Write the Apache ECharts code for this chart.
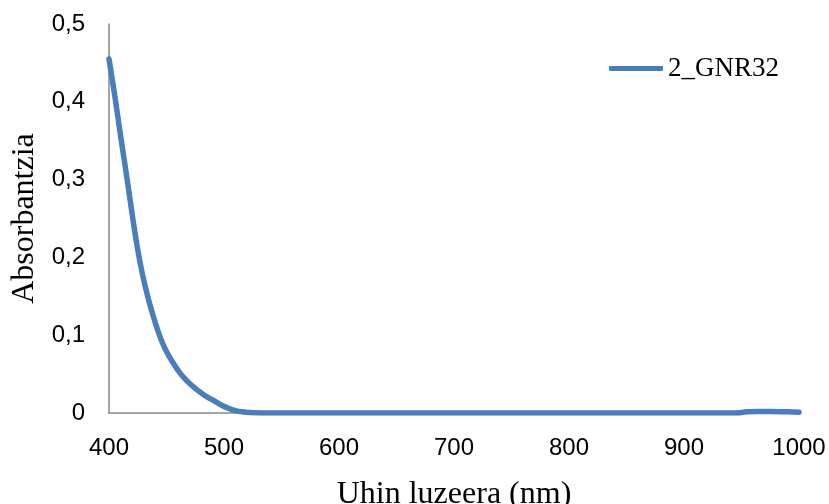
<!DOCTYPE html>
<html>
<head>
<meta charset="utf-8">
<script src="https://cdn.jsdelivr.net/npm/echarts@6/dist/echarts.min.js"></script>
<style>html,body{margin:0;padding:0;background:#fff}#c{width:829px;height:504px}</style>
</head>
<body>
<div id="c"></div>
<script>
const seriesName = '2_GNR32';
const wavelength = [400, 405, 410, 416, 421, 425, 429, 434, 438, 442, 446, 450, 456, 462, 468, 474, 480, 486, 490, 498, 504, 510, 518, 526, 540, 945, 955, 965, 975, 990, 1000];
const absorbance = [0.455, 0.408, 0.357, 0.298, 0.247, 0.21, 0.179, 0.148, 0.127, 0.108, 0.092, 0.079, 0.064, 0.051, 0.041, 0.033, 0.026, 0.020, 0.017, 0.010, 0.006, 0.003, 0.0012, 0.0003, 0, 0, 0.0015, 0.002, 0.002, 0.0015, 0.001];
const xTicks = [400, 500, 600, 700, 800, 900, 1000];
const yTicks = [0, 0.1, 0.2, 0.3, 0.4, 0.5];

const data = wavelength.map((x, i) => [x, absorbance[i]]);
const chart = echarts.init(document.getElementById('c'), null, {renderer: 'canvas'});
chart.setOption({
  animation: false,
  grid: {left: 109, right: 30, top: 24, bottom: 91, outerBoundsMode: 'none', containLabel: false},
  legend: {
    show: true,
    left: 604, top: 50,
    itemWidth: 54, itemHeight: 5, itemGap: 10,
    textStyle: {fontFamily: 'Liberation Serif', fontSize: 27, color: '#000'},
    data: [{name: seriesName, icon: 'roundRect', itemStyle: {color: '#4A7EBB', borderWidth: 0}}]
  },
  xAxis: {
    type: 'value', min: xTicks[0], max: xTicks[xTicks.length - 1], interval: 100,
    name: 'Uhin luzeera (nm)', nameLocation: 'middle', nameGap: 66,
    nameTextStyle: {fontFamily: 'Liberation Serif', fontSize: 32, color: '#000'},
    axisLine: {lineStyle: {color: '#898989', width: 1.5}},
    axisTick: {show: false},
    splitLine: {show: false},
    axisLabel: {fontFamily: 'Liberation Sans', fontSize: 24, color: '#000', margin: 23,
      formatter: v => String(v)}
  },
  yAxis: {
    type: 'value', min: yTicks[0], max: yTicks[yTicks.length - 1], interval: 0.1,
    name: 'Absorbantzia', nameLocation: 'middle', nameGap: 68,
    nameTextStyle: {fontFamily: 'Liberation Serif', fontSize: 32, color: '#000'},
    axisLine: {show: true, lineStyle: {color: '#898989', width: 1.5}},
    axisTick: {show: false},
    splitLine: {show: false},
    axisLabel: {fontFamily: 'Liberation Sans', fontSize: 24, color: '#000', margin: 24,
      formatter: v => String(Math.round(v * 10) / 10).replace('.', ',')}
  },
  series: [{
    name: seriesName, type: 'line', data: data, smooth: 0.5,
    showSymbol: false, symbol: 'none',
    lineStyle: {color: '#4A7EBB', width: 5.5, cap: 'round'},
    itemStyle: {color: '#4A7EBB'}
  }]
});
</script>
</body>
</html>
